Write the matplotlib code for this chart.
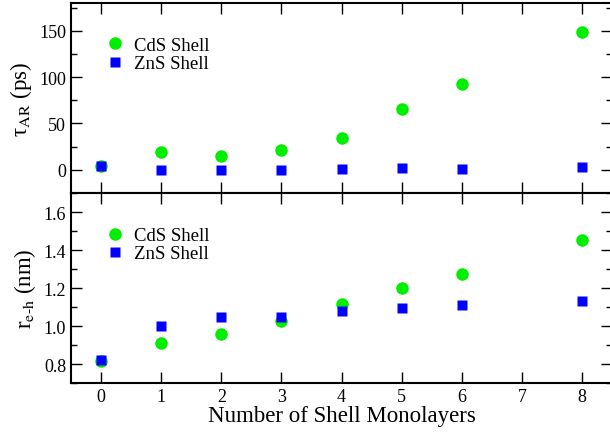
import matplotlib
matplotlib.use('Agg')
import matplotlib.pyplot as plt
from matplotlib.ticker import MultipleLocator

plt.rcParams['font.family'] = 'Liberation Serif'
plt.rcParams['mathtext.fontset'] = 'stix'

layers = [0, 1, 2, 3, 4, 5, 6, 8]

# Auger recombination time (ps)
tau_cds = [4.6, 19, 15.4, 21.5, 34.8, 65.6, 92.6, 148.6]
tau_zns = [4.5, 0.3, 0.3, 0.3, 1.0, 1.8, 1.4, 2.8]

# electron-hole distance (nm)
reh_cds = [0.816, 0.91, 0.959, 1.026, 1.115, 1.20, 1.274, 1.454]
reh_zns = [0.82, 1.001, 1.05, 1.05, 1.078, 1.097, 1.111, 1.134]

fig = plt.figure(figsize=(6.1, 4.35), dpi=100)
ax1 = fig.add_axes([0.1164, 0.554, 0.887, 0.437])
ax2 = fig.add_axes([0.1164, 0.1172, 0.887, 0.4368])

green = '#00ee00'
blue = '#0000ff'

for ax in (ax1, ax2):
    ax.set_xlim(-0.5, 8.5)
    ax.xaxis.set_major_locator(MultipleLocator(1))
    ax.tick_params(which='both', direction='in', top=True, right=True, labelsize=13)
    ax.tick_params(which='major', length=8, width=1)
    ax.tick_params(which='minor', length=4, width=1)
    for s in ax.spines.values():
        s.set_linewidth(1.5)

ax1.plot(layers, tau_cds, 'o', color=green, ms=9, mec='none', label='CdS Shell')
ax1.plot(layers, tau_zns, 's', color=blue, ms=7.5, mec='none', label='ZnS Shell')
ax1.set_ylim(-25, 180)
ax1.yaxis.set_major_locator(MultipleLocator(50))
ax1.yaxis.set_minor_locator(MultipleLocator(25))
ax1.tick_params(labelbottom=False)
ax1.set_ylabel(r'τ$_{\rm AR}$ (ps)', fontsize=16.5)
ax1.legend(loc='upper left', bbox_to_anchor=(0.025, 0.91), frameon=False,
           fontsize=13.5, handletextpad=0.35, labelspacing=0.05, handlelength=1.4)

ax2.plot(layers, reh_cds, 'o', color=green, ms=9, mec='none', label='CdS Shell')
ax2.plot(layers, reh_zns, 's', color=blue, ms=7.5, mec='none', label='ZnS Shell')
ax2.set_ylim(0.7, 1.7)
ax2.yaxis.set_major_locator(MultipleLocator(0.2))
ax2.yaxis.set_minor_locator(MultipleLocator(0.1))
ax2.set_ylabel(r'r$_{\rm e\text{-}h}$ (nm)', fontsize=16.5)
ax2.set_xlabel('Number of Shell Monolayers', fontsize=16.5, labelpad=0)
ax2.legend(loc='upper left', bbox_to_anchor=(0.025, 0.91), frameon=False,
           fontsize=13.5, handletextpad=0.35, labelspacing=0.05, handlelength=1.4)

fig.align_ylabels([ax1, ax2])
plt.savefig('out.png', dpi=100)
